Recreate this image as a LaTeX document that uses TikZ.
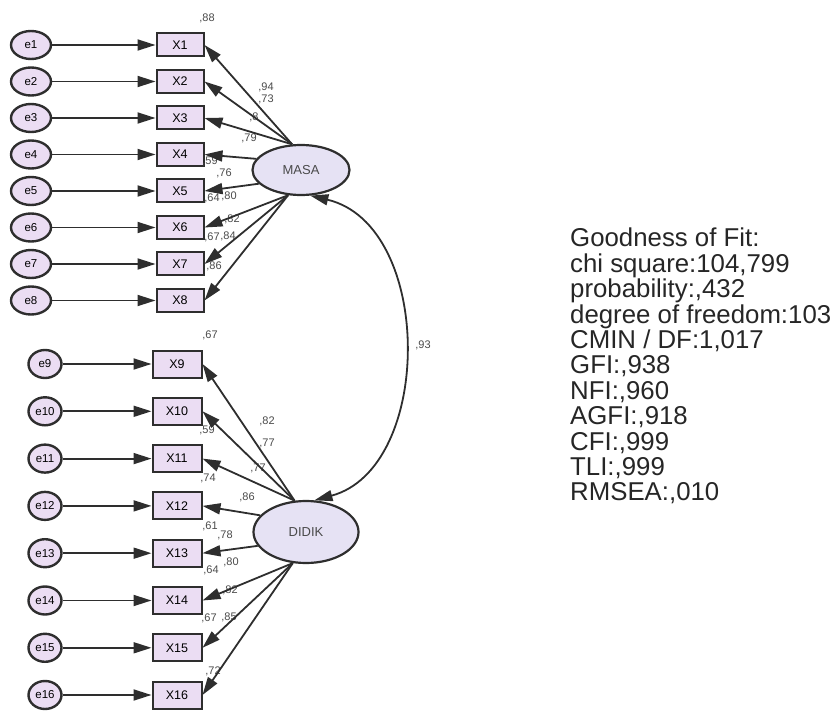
\documentclass[tikz,border=0pt]{standalone}
\usepackage{fontspec}
\setmainfont{Liberation Sans}
\usetikzlibrary{arrows.meta,shapes.geometric}
\definecolor{obsfill}{HTML}{EBDDF3}
\definecolor{latfill}{HTML}{E6E2F4}
\definecolor{pathgray}{HTML}{2E2E2E}
\definecolor{estgray}{HTML}{4A4A4A}

\begin{document}
\begin{tikzpicture}[x=1pt,y=-1pt,>={Triangle[length=18pt,width=11pt]}]
\tikzset{
				errnode/.style={
					draw=pathgray,
					line width=2.4pt,
					ellipse,
					fill=obsfill,
					minimum width=40pt,
					minimum height=28pt,
					inner sep=0pt,
					font=\fontsize{11.5}{11.5}\selectfont
				},
				errsmall/.style={
					errnode,
					minimum width=33pt
				},
				obsbox/.style={
					draw=pathgray,
					line width=2pt,
					fill=obsfill,
					minimum width=47pt,
					minimum height=23pt,
					inner sep=0pt,
					font=\fontsize{12.5}{12.5}\selectfont
				},
				obslow/.style={
					obsbox,
					minimum width=49pt,
					minimum height=27pt
				},
				latent/.style={
					draw=pathgray,
					line width=2.2pt,
					ellipse,
					fill=latfill,
					inner sep=0pt,
					font=\fontsize{13}{13}\selectfont,
					text=estgray
				},
				load/.style={->,draw=pathgray,line width=1.8pt},
				est/.style={
					inner sep=0pt,
					text=estgray,
					font=\fontsize{11}{11}\selectfont
				}
			}
			\useasboundingbox (0,0) rectangle (838,711);

			% upper block: MASA
			\node[errnode] (e1) at (31,45) {e1};
			\node[errnode] (e2) at (31,81.5) {e2};
			\node[errnode] (e3) at (31,118) {e3};
			\node[errnode] (e4) at (31,154.5) {e4};
			\node[errnode] (e5) at (31,191) {e5};
			\node[errnode] (e6) at (31,227.5) {e6};
			\node[errnode] (e7) at (31,264) {e7};
			\node[errnode] (e8) at (31,300.5) {e8};
			\node[obsbox] (X1) at (180,45) {X1};
			\node[obsbox] (X2) at (180,81.5) {X2};
			\node[obsbox] (X3) at (180,118) {X3};
			\node[obsbox] (X4) at (180,154.5) {X4};
			\node[obsbox] (X5) at (180,191) {X5};
			\node[obsbox] (X6) at (180,227.5) {X6};
			\node[obsbox] (X7) at (180,264) {X7};
			\node[obsbox] (X8) at (180,300.5) {X8};
			\node[latent,minimum width=97pt,minimum height=50pt] (MASA) at (301,170) {MASA};

			% lower block: DIDIK
			\node[errsmall] (e9) at (45,364) {e9};
			\node[errsmall] (e10) at (45,411.3) {e10};
			\node[errsmall] (e11) at (45,458.6) {e11};
			\node[errsmall] (e12) at (45,505.9) {e12};
			\node[errsmall] (e13) at (45,553.2) {e13};
			\node[errsmall] (e14) at (45,600.5) {e14};
			\node[errsmall] (e15) at (45,647.8) {e15};
			\node[errsmall] (e16) at (45,695) {e16};
			\node[obslow] (X9) at (177,364) {X9};
			\node[obslow] (X10) at (177,411.3) {X10};
			\node[obslow] (X11) at (177,458.6) {X11};
			\node[obslow] (X12) at (177,505.9) {X12};
			\node[obslow] (X13) at (177,553.2) {X13};
			\node[obslow] (X14) at (177,600.5) {X14};
			\node[obslow] (X15) at (177,647.8) {X15};
			\node[obslow] (X16) at (177,695) {X16};
			\node[latent,minimum width=105pt,minimum height=62pt] (DIDIK) at (306,532) {DIDIK};

			% estimates
			\node[est] (r1) at (207,18) {,88};
			\node[est] (l1) at (266,87) {,94};
			\node[est] (l2) at (266,99) {,73};
			\node[est] (l3) at (254,117) {,8};
			\node[est] (l4) at (249,138) {,79};
			\node[est] (r4) at (210,161) {,59};
			\node[est] (l5) at (224,173) {,76};
			\node[est] (r5) at (212,198) {,64};
			\node[est] (l6) at (229,196) {,80};
			\node[est] (l7) at (232,219) {,82};
			\node[est] (r6) at (212,237) {,67};
			\node[est] (l8) at (228,236) {,84};
			\node[est] (r8) at (214,266) {,86};
			\node[est] (r9) at (210,335) {,67};
			\node[est] (l9) at (267,421) {,82};
			\node[est] (l10) at (267,443) {,77};
			\node[est] (r10) at (207,430) {,59};
			\node[est] (l11) at (258,468) {,77};
			\node[est] (r11) at (208,478) {,74};
			\node[est] (l12) at (247,497) {,86};
			\node[est] (r12) at (210,526) {,61};
			\node[est] (l13) at (225,535) {,78};
			\node[est] (r13) at (211,570) {,64};
			\node[est] (l14) at (231,562) {,80};
			\node[est] (l15) at (230,590) {,82};
			\node[est] (r14) at (209,618) {,67};
			\node[est] (l16) at (229,617) {,85};
			\node[est] (r16) at (213,671) {,72};
			\node[est] (cor) at (423,345) {,93};

			\draw[load] (e1) -- (X1);
			\draw[load] (e2) -- (X2);
			\draw[load] (e3) -- (X3);
			\draw[load] (e4) -- (X4);
			\draw[load] (e5) -- (X5);
			\draw[load] (e6) -- (X6);
			\draw[load] (e7) -- (X7);
			\draw[load] (e8) -- (X8);
			\draw[load] (e9) -- (X9);
			\draw[load] (e10) -- (X10);
			\draw[load] (e11) -- (X11);
			\draw[load] (e12) -- (X12);
			\draw[load] (e13) -- (X13);
			\draw[load] (e14) -- (X14);
			\draw[load] (e15) -- (X15);
			\draw[load] (e16) -- (X16);

			\draw[load] (MASA.109) -- (X1.east);
			\draw[load] (MASA.109) -- (X2.east);
			\draw[load] (MASA.109) -- (X3.east);
			\draw[load] (MASA.166) -- (X4.east);
			\draw[load] (MASA.198) -- (X5.east);
			\draw[load] (MASA.243) -- (X6.east);
			\draw[load] (MASA.243) -- (X7.east);
			\draw[load] (MASA.243) -- (X8.east);

			\draw[load] (DIDIK.110) -- (X9.east);
			\draw[load] (DIDIK.110) -- (X10.east);
			\draw[load] (DIDIK.110) -- (X11.east);
			\draw[load] (DIDIK.160) -- (X12.east);
			\draw[load] (DIDIK.196) -- (X13.east);
			\draw[load] (DIDIK.247) -- (X14.east);
			\draw[load] (DIDIK.247) -- (X15.east);
			\draw[load] (DIDIK.247) -- (X16.east);

			\draw[load,<->] (MASA.290) .. controls (434,225) and (434,468) .. (DIDIK.75);

			% fit summary
			\node[anchor=north west,align=left,inner sep=0pt,text=black!85,
				font=\fontsize{25.8}{25.4}\selectfont] (fit) at (570,228)
				{Goodness of Fit:\\
				chi square:104,799\\
				probability:,432\\
				degree of freedom:103\\
				CMIN / DF:1,017\\
				GFI:,938\\
				NFI:,960\\
				AGFI:,918\\
				CFI:,999\\
				TLI:,999\\
				RMSEA:,010};
\end{tikzpicture}
\end{document}
